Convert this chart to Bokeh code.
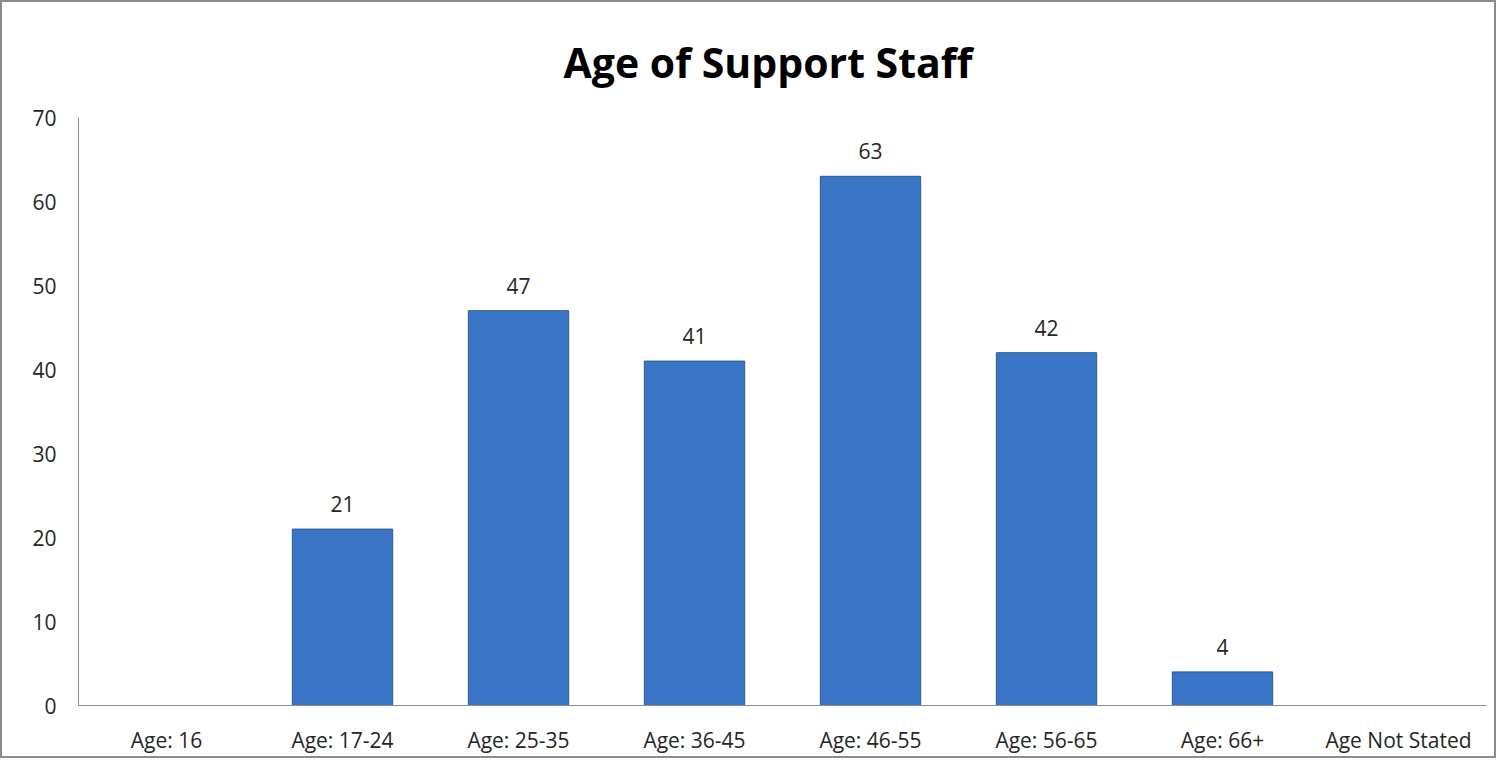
from bokeh.plotting import figure
from bokeh.models import ColumnDataSource, FactorRange, Range1d, FixedTicker
from bokeh.core.properties import value
from bokeh.embed import file_html
from bokeh.resources import INLINE

categories = ["Age: 16", "Age: 17-24", "Age: 25-35", "Age: 36-45",
              "Age: 46-55", "Age: 56-65", "Age: 66+", "Age Not Stated"]
counts = [0, 21, 47, 41, 63, 42, 4, 0]
y_ticks = [0, 10, 20, 30, 40, 50, 60, 70]

FONT = "Open Sans"

src = ColumnDataSource(dict(cat=categories, val=counts))
lab_cats = [c for c, v in zip(categories, counts) if v > 0]
lab_vals = [v for v in counts if v > 0]
lab_src = ColumnDataSource(dict(cat=lab_cats, val=lab_vals, txt=[str(v) for v in lab_vals]))

p = figure(x_range=FactorRange(*categories, range_padding=0),
           y_range=Range1d(0, 70),
           frame_width=1408, frame_height=588,
           output_backend="svg", toolbar_location=None,
           min_border_left=76, min_border_right=8,
           min_border_top=115, min_border_bottom=45,
           title="Age of Support Staff")

p.styles = {"border": "2px solid #8c8c8c"}

p.title.align = "left"
p.title.offset = 485
p.title.text_font = FONT
p.title.text_font_size = "41px"
p.title.text_font_style = "bold"
p.title.text_color = "#000000"
p.title.standoff = 56

p.vbar(x="cat", top="val", width=0.57, source=src,
       fill_color="#3b75c5", line_color="#2b5894", line_width=1)

p.text(x="cat", y="val", text="txt", source=lab_src,
       text_align="center", text_baseline="bottom", y_offset=-17,
       text_font=value(FONT), text_font_size="21px", text_color="#262626")

p.xgrid.visible = False
p.ygrid.visible = False
p.outline_line_color = None

p.yaxis.ticker = FixedTicker(ticks=y_ticks)
p.yaxis.major_tick_line_color = None
p.yaxis.minor_tick_line_color = None
p.yaxis.axis_line_color = "#8c8c8c"
p.yaxis.major_label_text_font = FONT
p.yaxis.major_label_text_font_size = "21px"
p.yaxis.major_label_text_color = "#262626"
p.yaxis.major_label_standoff = 16

p.xaxis.major_tick_line_color = None
p.xaxis.minor_tick_line_color = None
p.xaxis.axis_line_color = "#8c8c8c"
p.xaxis.major_label_text_font = FONT
p.xaxis.major_label_text_font_size = "21px"
p.xaxis.major_label_text_color = "#262626"
p.xaxis.major_label_standoff = 14

open("out.html", "w").write(file_html(p, INLINE))
